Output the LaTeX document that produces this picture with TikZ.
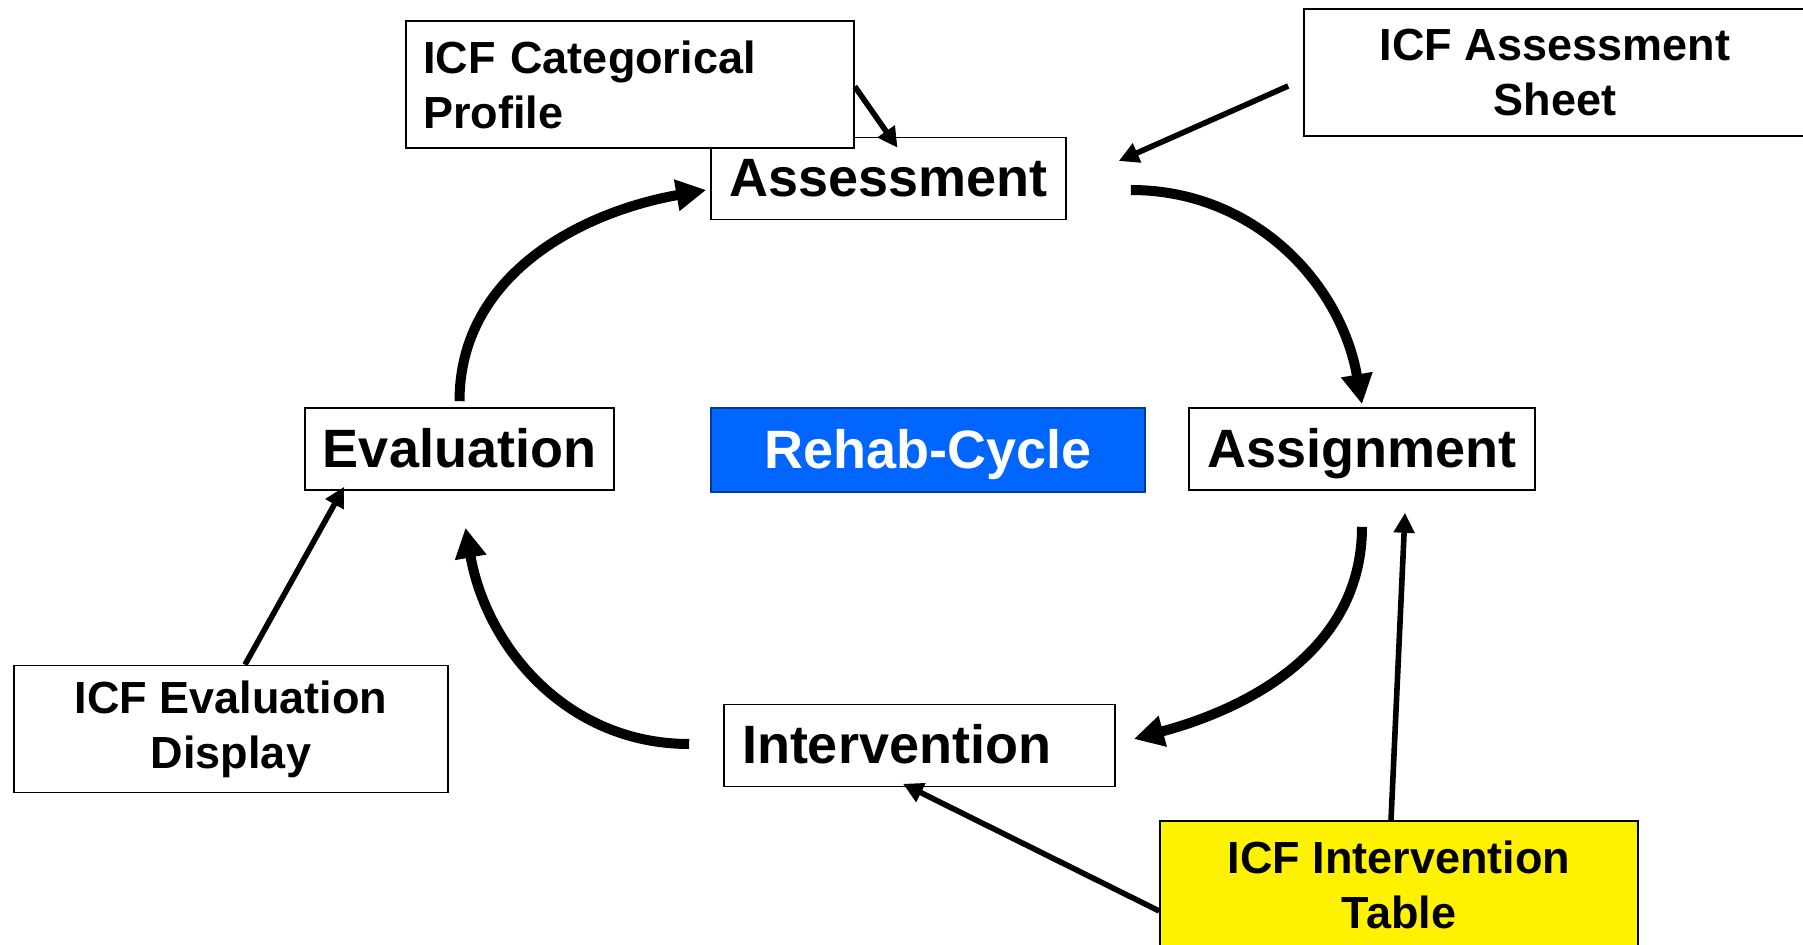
\documentclass[tikz,border=0pt]{standalone}
\usepackage{fontspec}
\setmainfont{Liberation Sans}
\usetikzlibrary{arrows.meta}
\definecolor{rehabblue}{RGB}{0,102,255}

\begin{document}
\begin{tikzpicture}[x=0.5pt,y=0.5pt,
  stage/.style={draw, fill=white, line width=0.8pt, inner sep=0pt,
    minimum height=41pt, text height=18pt, text depth=0pt,
    font=\bfseries\fontsize{27}{32}\selectfont},
  tool/.style={draw, fill=white, line width=0.8pt, inner sep=0pt, align=center,
    minimum height=63.5pt, font=\bfseries\fontsize{22.5}{27.5}\selectfont},
  cyclearrow/.style={line width=5pt, -{Triangle[length=15pt,width=15pt]}},
  feedarrow/.style={line width=2.8pt, -{Triangle[length=10pt,width=10pt]}}]
  \useasboundingbox (0,0) rectangle (1803,944);
  \clip (0,0) rectangle (1803,944);

  % the four stages
  \node[stage, minimum width=177.5pt] (assess) at (888.5,765.5) {Assessment};
  \node[stage, minimum width=173pt] (assign) at (1362,495) {Assignment};
  \node[stage, minimum width=195.5pt, text width=177.5pt, align=left] (interv) at (919.5,198.5) {Intervention};
  \node[stage, minimum width=154.5pt] (eval) at (459.5,495) {Evaluation};
  \node[stage, minimum width=217pt, minimum height=42pt, fill=rehabblue, draw=rehabblue!60!black, text=white] (rehab) at (928,494) {Rehab-Cycle};

  % ICF tools
  \node[tool, minimum width=224pt, text width=207pt, align=left] (prof) at (630,859.5) {ICF Categorical\\Profile};
  \node[tool, minimum width=251pt] (sheet) at (1555,871.5) {ICF Assessment\\Sheet};
  \node[tool, minimum width=217pt] (disp) at (231,215) {ICF Evaluation\\Display};
  \node[tool, minimum width=239pt, fill=yellow] (table) at (1399,59.5) {ICF Intervention\\Table};

  % cycle
  \draw[cyclearrow] ([yshift=3pt]eval.north) to[out=90,in=190] ([xshift=-2pt,yshift=-5.75pt]assess.west);
  \draw[cyclearrow] ([xshift=32pt,yshift=-5.75pt]assess.east) to[out=0,in=100] ([yshift=1.5pt]assign.north);
  \draw[cyclearrow] ([yshift=-18pt]assign.south) to[out=-90,in=15] ([xshift=9pt,yshift=3.25pt]interv.east);
  \draw[cyclearrow] ([xshift=-17pt,yshift=0.75pt]interv.west) to[out=180,in=-80] ([xshift=3pt,yshift=-18.5pt]eval.south);

  % tools feeding the stages
  \draw[feedarrow] ([yshift=-1pt]prof.east) -- ([xshift=4.5pt,yshift=-5.5pt]assess.north);
  \draw[feedarrow] ([xshift=-7.5pt,yshift=-6.75pt]sheet.west) -- ([xshift=26pt,yshift=8.75pt]assess.east);
  \draw[feedarrow] ([xshift=7pt]disp.north) -- ([xshift=20pt,yshift=2pt]eval.south west);
  \draw[feedarrow] ([xshift=-4pt]table.north) -- ([xshift=21.5pt,yshift=-11pt]assign.south);
  \draw[feedarrow] ([yshift=-13.25pt]table.west) -- ([xshift=-8.25pt,yshift=1.75pt]interv.south);
\end{tikzpicture}
\end{document}
